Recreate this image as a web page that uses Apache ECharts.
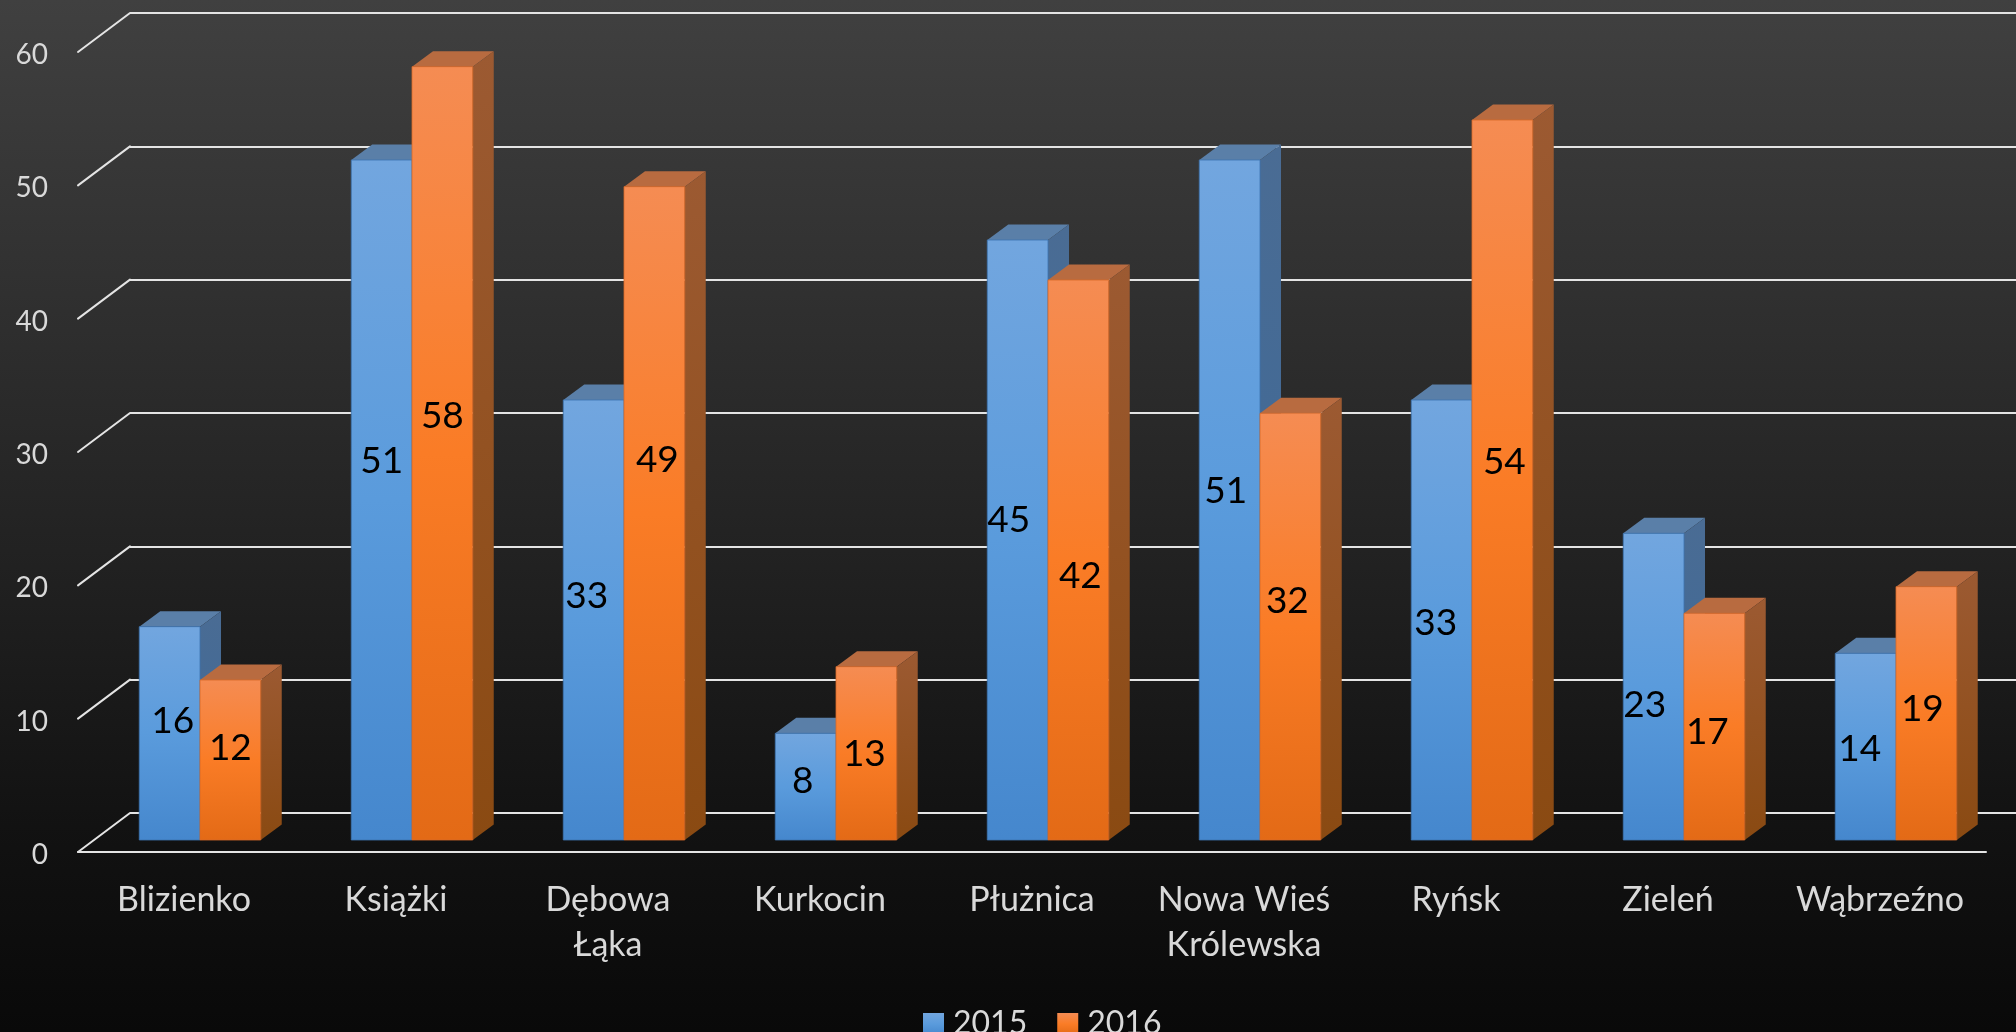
<!DOCTYPE html>
<html>
<head>
<meta charset="utf-8">
<style>html,body{margin:0;padding:0;background:#000;overflow:hidden}#c{width:2016px;height:1032px}</style>
<script src="https://cdn.jsdelivr.net/npm/echarts@6/dist/echarts.min.js"></script>
</head>
<body>
<div id="c"></div>
<script>
const categories = ['Blizienko', 'Książki', 'Dębowa\nŁąka', 'Kurkocin', 'Płużnica', 'Nowa Wieś\nKrólewska', 'Ryńsk', 'Zieleń', 'Wąbrzeźno'];
const values2015 = [16, 51, 33, 8, 45, 51, 33, 23, 14];
const values2016 = [12, 58, 49, 13, 42, 32, 54, 17, 19];
const yTicks = [0, 10, 20, 30, 40, 50, 60];

// Layout only: hand-placed label shifts from the bar centre, as in the reference
const shift2015 = [[3,-12],[0,-39],[-7,-24],[-3,-6],[-9,-20],[-4,-9],[-6,3],[-9,18],[-6,2]];
const shift2016 = [[0,-12],[0,-37],[3,-53],[-2,1],[2,16],[-3,-26],[2,-18],[-7,5],[-4,-4]];

const FONT = 'Lato';
const TXT = '#d9d9d9';
const LINE = '#e4e4e4';
const grad = (a) => new echarts.graphic.LinearGradient(0, 0, 0, 1, a.map((c) => ({offset: c[0], color: c[1]})));
const skin2015 = {
  front: grad([[0,'#72a6df'],[0.5,'#5a9bdc'],[1,'#4587cd']]),
  top: '#5a7fa8',
  side: grad([[0,'#4a6c94'],[1,'#3a6797']]),
  edge: 'rgba(60,115,175,0.8)'
};
const skin2016 = {
  front: grad([[0,'#f58c53'],[0.5,'#fa7c26'],[1,'#e36a16']]),
  top: '#b86b40',
  side: grad([[0,'#9c5a32'],[1,'#8a4a12']]),
  edge: 'rgba(215,105,40,0.8)'
};
const DX = 21, DY = 15.5, BAR_RATIO = 0.2865;

function barSeries(name, values, side, skin, shifts) {
  return {
    name, type: 'custom', xAxisIndex: 2, yAxisIndex: 2, clip: false, z: 5,
    itemStyle: {color: skin.front},
    encode: {x: 0, y: 1},
    data: values.map((v, i) => [i, v]),
    renderItem(params, api) {
      const i = api.value(0), v = api.value(1);
      const top = api.coord([i, v]), base = api.coord([i, 0]);
      const w = api.size([1, 0])[0] * BAR_RATIO;
      const x = side < 0 ? top[0] - w : top[0];
      const y = top[1], h = base[1] - top[1];
      const [sx, sy] = shifts[params.dataIndex];
      return {type: 'group', children: [
        {type: 'polygon', shape: {points: [[x,y],[x+w,y],[x+w+DX,y-DY],[x+DX,y-DY]]}, style: {fill: skin.top}},
        {type: 'polygon', shape: {points: [[x+w,y],[x+w+DX,y-DY],[x+w+DX,y+h-DY],[x+w,y+h]]}, style: {fill: skin.side}},
        {type: 'rect', shape: {x, y, width: w, height: h}, style: {fill: skin.front, stroke: skin.edge, lineWidth: 1}},
        {type: 'text', z2: 20, style: {x: x + w/2 + sx, y: y + h/2 + sy, text: String(v), fill: '#000',
          font: '37px ' + FONT, align: 'center', verticalAlign: 'middle'}}
      ]};
    }
  };
}

const option = {
  animation: false,
  backgroundColor: new echarts.graphic.LinearGradient(0, 0, 0, 1, [
    {offset: 0, color: '#404040'}, {offset: 0.55, color: '#212121'}, {offset: 0.8, color: '#121212'}, {offset: 1, color: '#090909'}
  ]),
  textStyle: {fontFamily: FONT},
  legend: {
    left: 923, top: 1008, padding: 0, itemWidth: 21, itemHeight: 22, itemGap: 30, icon: 'rect',
    textStyle: {color: TXT, fontSize: 32, fontFamily: FONT, padding: [0, 0, 6, 4]},
    data: ['2015', '2016']
  },
  grid: [
    {left: 78, top: 52, width: 1908, height: 800},
    {left: 130, top: 13, width: 1886, height: 800},
    {left: 94, top: 40, width: 1908, height: 800},
    {left: 78, top: 55, width: 1908, height: 800}
  ],
  xAxis: [
    {gridIndex: 0, type: 'category', data: categories, axisLine: {show: false}, axisTick: {show: false},
     axisLabel: {interval: 0, color: TXT, fontSize: 34, fontFamily: FONT, margin: 26, lineHeight: 45}},
    {gridIndex: 1, type: 'value', show: false},
    {gridIndex: 2, type: 'category', data: categories, show: false},
    {gridIndex: 3, type: 'value', show: false}
  ],
  yAxis: [
    {gridIndex: 0, type: 'value', min: 0, max: 60, interval: 10, show: false, splitLine: {show: false}},
    {gridIndex: 1, type: 'value', min: 0, max: 60, interval: 10, axisLine: {show: false}, axisTick: {show: false}, axisLabel: {show: false},
     splitLine: {show: true, lineStyle: {color: LINE, width: 2}}},
    {gridIndex: 2, type: 'value', min: 0, max: 60, interval: 10, show: false, splitLine: {show: false}},
    {gridIndex: 3, type: 'value', min: 0, max: 60, interval: 10, axisLine: {show: false}, axisTick: {show: false}, splitLine: {show: false},
     axisLabel: {color: TXT, fontSize: 28, fontFamily: FONT, margin: 30}}
  ],
  series: [
    {
      type: 'custom', xAxisIndex: 0, yAxisIndex: 0, clip: false, z: 2, silent: true,
      encode: {y: 0}, data: yTicks.map(t => [t]),
      renderItem(params, api) {
        const v = api.value(0);
        const p = api.coord([0, v]);
        const cs = params.coordSys;
        const ls = {stroke: LINE, lineWidth: 2, lineCap: 'round'};
        const kids = [{type: 'line', shape: {x1: cs.x, y1: p[1], x2: cs.x + 52, y2: p[1] - 39}, style: ls}];
        if (v === 0) kids.push({type: 'line', shape: {x1: cs.x, y1: p[1], x2: cs.x + cs.width, y2: p[1]}, style: ls});
        return {type: 'group', children: kids};
      }
    },
    barSeries('2015', values2015, -1, skin2015, shift2015),
    barSeries('2016', values2016, 1, skin2016, shift2016)
  ]
};
const chart = echarts.init(document.getElementById('c'), null, {renderer: 'canvas'});
chart.setOption(option);
</script>
</body>
</html>
